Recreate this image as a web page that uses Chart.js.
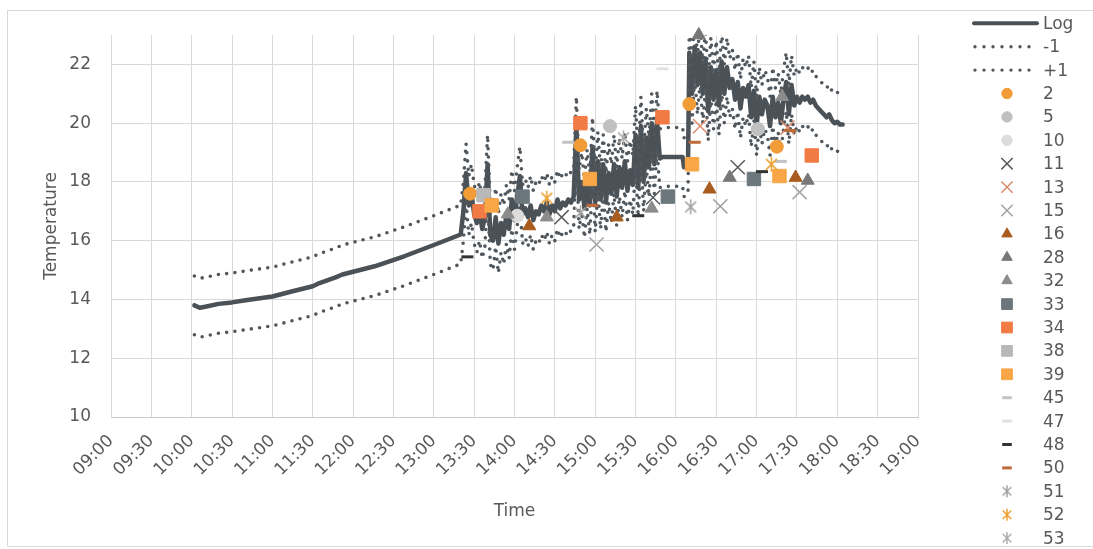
<!DOCTYPE html>
<html>
<head>
<meta charset="utf-8">
<script src="https://cdn.jsdelivr.net/npm/chart.js@4.4.1/dist/chart.umd.min.js"></script>
<style>
  html, body { margin: 0; padding: 0; background: #fff; }
  #wrap { width: 1093px; height: 549px; }
</style>
</head>
<body>
<div id="wrap"><canvas id="chart" width="1093" height="549"></canvas></div>
<script>
const tickLabels = ['09:00', '09:30', '10:00', '10:30', '11:00', '11:30', '12:00', '12:30', '13:00', '13:30',
  '14:00', '14:30', '15:00', '15:30', '16:00', '16:30', '17:00', '17:30', '18:00', '18:30', '19:00']

// logger readings (time of day)
const logTimes = (
  '10:02 10:06 10:10 10:20 10:30 10:40 10:52 11:00 11:15 11:30 11:35 11:47 11:52 12:16 12:38 13:01 13:20 ' +
  '13:22 13:24 13:26 13:28 13:30 13:32 13:34 13:36 13:38 13:40 ' +
  '13:42 13:44 13:46 13:48 13:50 13:52 13:54 13:56 13:58 14:00 ' +
  '14:02 14:04 14:06 14:08 14:10 14:12 14:14 14:16 14:18 14:20 ' +
  '14:22 14:24 14:26 14:28 14:30 14:32 14:34 14:36 14:38 14:40 ' +
  '14:42 14:44 14:46 14:48 14:50 14:52 14:54 14:56 14:58 15:00 ' +
  '15:02 15:04 15:06 15:08 15:10 15:12 15:14 15:16 15:18 15:20 ' +
  '15:22 15:24 15:26 15:28 15:30 15:32 15:34 15:36 15:38 15:40 ' +
  '15:42 15:44 15:46 15:48 15:50 16:05 16:06 16:09 16:10 16:12 ' +
  '16:14 16:16 16:18 16:20 16:22 16:24 16:26 16:28 16:30 16:32 ' +
  '16:34 16:36 16:38 16:40 16:42 16:44 16:46 16:48 16:50 16:52 ' +
  '16:54 16:56 16:58 17:00 17:02 17:04 17:06 17:08 17:10 17:12 ' +
  '17:14 17:16 17:18 17:20 17:22 17:24 17:26 17:28 17:30 17:32 ' +
  '17:34 17:36 17:38 17:40 17:42 17:44 17:46 17:48 17:50 17:52 ' +
  '17:54 17:56 17:58 18:00 18:02 18:04').split(' ')

const logValues = [
  13.8, 13.72, 13.75, 13.85, 13.9, 13.97, 14.05, 14.1, 14.28, 14.45, 14.56, 14.75, 14.85, 15.13, 15.47, 15.87, 16.21,
  17.0, 18.3, 17.2, 17.6, 16.9, 16.6, 17.0, 16.4, 16.8, 18.6,
  16.2, 16.0, 16.8, 15.9, 16.6, 16.2, 16.9, 16.4, 17.4, 16.7,
  17.5, 18.2, 16.9, 17.1, 16.8, 17.2, 16.7, 17.0, 16.9, 17.2,
  17.0, 17.3, 16.9, 17.2, 17.0, 17.4, 17.1, 17.3, 17.2, 17.4,
  17.3, 17.5, 19.9, 17.4, 18.0, 17.1, 18.1, 17.2, 19.2, 17.3,
  18.7, 17.4, 18.6, 17.3, 18.3, 17.6, 18.6, 17.5, 18.5, 17.8,
  18.7, 17.7, 18.4, 17.9, 19.6, 17.8, 19.9, 18.0, 19.5, 18.5,
  20.0, 18.6, 20.1, 18.8, 18.85, 18.85, 18.5, 18.6, 22.4, 21.0,
  22.6, 21.3, 22.4, 21.0, 22.2, 20.4, 21.9, 20.8, 21.8, 20.6,
  22.1, 21.0, 21.9, 21.2, 21.5, 20.8, 21.4, 20.5, 21.2, 20.9,
  21.3, 20.2, 21.1, 19.9, 20.9, 20.3, 20.8, 20.6, 19.9, 20.9,
  20.2, 20.7, 20.0, 20.8, 21.4, 20.3, 21.3, 20.6, 20.9, 20.7,
  20.9, 20.8, 20.9, 20.7, 20.8, 20.6, 20.5, 20.4, 20.3, 20.2,
  20.3, 20.1, 20.0, 20.05, 19.95, 19.95
]

const minusOneValues = [
  12.8, 12.72, 12.75, 12.85, 12.9, 12.97, 13.05, 13.1, 13.28, 13.45, 13.56, 13.75, 13.85, 14.13, 14.47, 14.87, 15.21,
  16.0, 17.3, 16.2, 16.6, 15.9, 15.6, 16.0, 15.4, 15.8, 17.6,
  15.2, 15.0, 15.8, 14.9, 15.6, 15.2, 15.9, 15.4, 16.4, 15.7,
  16.5, 17.2, 15.9, 16.1, 15.8, 16.2, 15.7, 16.0, 15.9, 16.2,
  16.0, 16.3, 15.9, 16.2, 16.0, 16.4, 16.1, 16.3, 16.2, 16.4,
  16.3, 16.5, 18.9, 16.4, 17.0, 16.1, 17.1, 16.2, 18.2, 16.3,
  17.7, 16.4, 17.6, 16.3, 17.3, 16.6, 17.6, 16.5, 17.5, 16.8,
  17.7, 16.7, 17.4, 16.9, 18.6, 16.8, 18.9, 17.0, 18.5, 17.5,
  19.0, 17.6, 19.1, 17.8, 17.85, 17.85, 17.5, 17.6, 21.4, 20.0,
  21.6, 20.3, 21.4, 20.0, 21.2, 19.4, 20.9, 19.8, 20.8, 19.6,
  21.1, 20.0, 20.9, 20.2, 20.5, 19.8, 20.4, 19.5, 20.2, 19.9,
  20.3, 19.2, 20.1, 18.9, 19.9, 19.3, 19.8, 19.6, 18.9, 19.9,
  19.2, 19.7, 19.0, 19.8, 20.4, 19.3, 20.3, 19.6, 19.9, 19.7,
  19.9, 19.8, 19.9, 19.7, 19.8, 19.6, 19.5, 19.4, 19.3, 19.2,
  19.3, 19.1, 19.0, 19.05, 18.95, 18.95
]

const plusOneValues = [
  14.8, 14.72, 14.75, 14.85, 14.9, 14.97, 15.05, 15.1, 15.28, 15.45, 15.56, 15.75, 15.85, 16.13, 16.47, 16.87, 17.21,
  18.0, 19.3, 18.2, 18.6, 17.9, 17.6, 18.0, 17.4, 17.8, 19.6,
  17.2, 17.0, 17.8, 16.9, 17.6, 17.2, 17.9, 17.4, 18.4, 17.7,
  18.5, 19.2, 17.9, 18.1, 17.8, 18.2, 17.7, 18.0, 17.9, 18.2,
  18.0, 18.3, 17.9, 18.2, 18.0, 18.4, 18.1, 18.3, 18.2, 18.4,
  18.3, 18.5, 20.9, 18.4, 19.0, 18.1, 19.1, 18.2, 20.2, 18.3,
  19.7, 18.4, 19.6, 18.3, 19.3, 18.6, 19.6, 18.5, 19.5, 18.8,
  19.7, 18.7, 19.4, 18.9, 20.6, 18.8, 20.9, 19.0, 20.5, 19.5,
  21.0, 19.6, 21.1, 19.8, 19.85, 19.85, 19.5, 19.6, 23.4, 22.0,
  23.6, 22.3, 23.4, 22.0, 23.2, 21.4, 22.9, 21.8, 22.8, 21.6,
  23.1, 22.0, 22.9, 22.2, 22.5, 21.8, 22.4, 21.5, 22.2, 21.9,
  22.3, 21.2, 22.1, 20.9, 21.9, 21.3, 21.8, 21.6, 20.9, 21.9,
  21.2, 21.7, 21.0, 21.8, 22.4, 21.3, 22.3, 21.6, 21.9, 21.7,
  21.9, 21.8, 21.9, 21.7, 21.8, 21.6, 21.5, 21.4, 21.3, 21.2,
  21.3, 21.1, 21.0, 21.05, 20.95, 20.95
]

// spot readings [time, temperature]
const s2 = [['13:27', 17.6], ['14:49', 19.25], ['16:10', 20.65], ['17:15', 19.2]]
const s5 = [['15:11', 19.9], ['17:01', 19.8]]
const s10 = [['14:02', 16.85]]
const s11 = [['14:35', 16.8], ['15:43', 17.47], ['16:46', 18.5]]
const s13 = [['16:18', 19.9], ['17:23', 19.85]]
const s15 = [['15:01', 15.87], ['16:33', 17.17], ['17:32', 17.65]]
const s16 = [['14:11', 16.5], ['15:16', 16.8], ['16:25', 17.75], ['17:29', 18.15]]
const s28 = [['16:17', 23.0], ['16:40', 18.15], ['17:38', 18.05]]
const s32 = [['13:55', 16.9], ['14:24', 16.8], ['15:42', 17.1], ['17:19', 20.9]]
const s33 = [['14:06', 17.5], ['15:54', 17.5], ['16:58', 18.1]]
const s34 = [['13:34', 17.0], ['14:49', 20.0], ['15:50', 20.2], ['17:41', 18.9]]
const s38 = [['13:37', 17.55]]
const s39 = [['13:43', 17.2], ['14:56', 18.1], ['16:12', 18.6], ['17:17', 18.2]]
const s45 = [['14:40', 19.35], ['17:18', 18.7]]
const s47 = [['15:50', 21.85]]
const s48 = [['13:25', 15.45], ['15:32', 16.85], ['17:04', 18.35]]
const s50 = [['14:58', 17.2], ['16:14', 19.35], ['17:25', 19.75]]
const s51 = [['14:49', 16.95], ['16:11', 17.15]]
const s52 = [['14:24', 17.45], ['17:11', 18.6]]
const s53 = [['15:21', 19.5]]

const markerSeries = [
  ['2', s2], ['5', s5], ['10', s10], ['11', s11], ['13', s13], ['15', s15], ['16', s16],
  ['28', s28], ['32', s32], ['33', s33], ['34', s34], ['38', s38], ['39', s39], ['45', s45],
  ['47', s47], ['48', s48], ['50', s50], ['51', s51], ['52', s52], ['53', s53]
]

const markerStyle = {
  '2': { shape: 'circle', color: '#f29c38', r: 6.5 },
  '5': { shape: 'circle', color: '#c0c0c0', r: 6.5 },
  '10': { shape: 'circle', color: '#dcdcdc', r: 6.5 },
  '11': { shape: 'crossRot', color: '#5a5a5a', r: 10 },
  '13': { shape: 'crossRot', color: '#d98c6c', r: 10 },
  '15': { shape: 'crossRot', color: '#a2a2a2', r: 10 },
  '16': { shape: 'triangle', color: '#a95c1d', r: 7.5 },
  '28': { shape: 'triangle', color: '#777777', r: 7.5 },
  '32': { shape: 'triangle', color: '#8c8c8c', r: 7.5 },
  '33': { shape: 'rect', color: '#6c777d', r: 9.5 },
  '34': { shape: 'rect', color: '#f27a44', r: 9.5 },
  '38': { shape: 'rect', color: '#b8b8b8', r: 9.5 },
  '39': { shape: 'rect', color: '#f8a646', r: 9.5 },
  '45': { shape: 'line', color: '#c2c2c2', r: 6 },
  '47': { shape: 'line', color: '#e2e2e2', r: 6 },
  '48': { shape: 'line', color: '#333333', r: 6 },
  '50': { shape: 'line', color: '#bf6a3a', r: 6 },
  '51': { shape: 'asterisk', color: '#a3a3a3', r: 7.5 },
  '52': { shape: 'asterisk', color: '#eba032', r: 7.5 },
  '53': { shape: 'asterisk', color: '#adadad', r: 7.5 },
}

const LOG_COLOR = '#4a5157'
const DOT_COLOR = '#50575d'
const TEXT_COLOR = '#595959'
const GRID_COLOR = '#d9d9d9'

function hours(t) {
  const [h, m] = t.split(':').map(Number)
  return h + m / 60
}

function makeAsterisk(color, r) {
  const size = Math.ceil(r * 2 + 2)
  const c = document.createElement('canvas')
  c.width = size
  c.height = size
  const g = c.getContext('2d')
  const m = size / 2
  const d = r * 0.72
  g.strokeStyle = color
  g.lineWidth = 1.5
  g.beginPath()
  g.moveTo(m, m - r)
  g.lineTo(m, m + r)
  g.moveTo(m - d, m - d)
  g.lineTo(m + d, m + d)
  g.moveTo(m - d, m + d)
  g.lineTo(m + d, m - d)
  g.stroke()
  return c
}

function markerDataset(name, pts, idx) {
  const st = markerStyle[name]
  const stroked = st.shape === 'crossRot' || st.shape === 'line'
  return {
    label: name,
    data: pts.map((p) => ({ x: hours(p[0]), y: p[1] })),
    showLine: false,
    pointStyle: st.shape === 'asterisk' ? makeAsterisk(st.color, st.r) : st.shape,
    pointRadius: st.r,
    pointBackgroundColor: st.color,
    pointBorderColor: st.color,
    pointBorderWidth: st.shape === 'line' ? 3 : (stroked ? 1.5 : 1),
    clip: false,
    order: 20 - idx,
  }
}

function lineDataset(label, values, dotted, order) {
  return {
    label: label,
    data: logTimes.map((t, i) => ({ x: hours(t), y: values[i] })),
    showLine: true,
    borderColor: dotted ? DOT_COLOR : LOG_COLOR,
    borderWidth: dotted ? 3.6 : 4.5,
    borderDash: dotted ? [0, 8.3] : [],
    borderCapStyle: 'round',
    borderJoinStyle: 'round',
    pointRadius: 0,
    tension: 0,
    clip: 0,
    order: order,
  }
}

const legendNames = ['Log', '-1', '+1'].concat(markerSeries.map((s) => s[0]))

const frameAndLegend = {
  id: 'frameAndLegend',
  beforeDraw(chart) {
    const ctx = chart.ctx
    ctx.save()
    ctx.fillStyle = '#ffffff'
    ctx.fillRect(0, 0, chart.width, chart.height)
    ctx.strokeStyle = GRID_COLOR
    ctx.lineWidth = 1
    ctx.strokeRect(7.5, 10.5, 1200, 536)
    ctx.restore()
  },
  afterDraw(chart) {
    const ctx = chart.ctx
    ctx.save()
    ctx.font = '17px "DejaVu Sans"'
    ctx.textBaseline = 'middle'
    ctx.textAlign = 'left'
    legendNames.forEach((name, i) => {
      const y = 23.3 + i * 23.4
      if (name === 'Log') {
        ctx.strokeStyle = LOG_COLOR
        ctx.lineWidth = 4
        ctx.lineCap = 'round'
        ctx.beginPath()
        ctx.moveTo(974, y)
        ctx.lineTo(1037, y)
        ctx.stroke()
      } else if (name === '-1' || name === '+1') {
        ctx.strokeStyle = DOT_COLOR
        ctx.lineWidth = 3.4
        ctx.lineCap = 'round'
        ctx.setLineDash([0, 9])
        ctx.beginPath()
        ctx.moveTo(975, y)
        ctx.lineTo(1032, y)
        ctx.stroke()
        ctx.setLineDash([])
      } else {
        const st = markerStyle[name]
        const r = st.r * 0.8
        if (st.shape === 'asterisk') {
          const img = makeAsterisk(st.color, r)
          ctx.drawImage(img, 1007 - img.width / 2, y - img.height / 2)
        } else {
          ctx.fillStyle = st.color
          ctx.strokeStyle = st.color
          const bw = st.shape === 'line' ? 3 : (st.shape === 'crossRot' ? 1.5 : 1)
          ctx.lineWidth = bw
          ctx.lineCap = 'butt'
          Chart.helpers.drawPoint(ctx, { pointStyle: st.shape, radius: r, rotation: 0, borderWidth: bw }, 1007, y)
        }
      }
      ctx.fillStyle = TEXT_COLOR
      ctx.fillText(name, 1043, y + 1)
    })
    ctx.restore()
  },
}

Chart.defaults.font.family = '"DejaVu Sans", Verdana, sans-serif'
Chart.defaults.font.size = 17
Chart.defaults.color = TEXT_COLOR

const datasets = markerSeries.map((s, i) => markerDataset(s[0], s[1], i))
datasets.push(lineDataset('+1', plusOneValues, true, 28))
datasets.push(lineDataset('-1', minusOneValues, true, 29))
datasets.push(lineDataset('Log', logValues, false, 30))

new Chart(document.getElementById('chart'), {
  type: 'scatter',
  data: { datasets: datasets },
  options: {
    responsive: false,
    animation: false,
    devicePixelRatio: 1,
    layout: { padding: { left: 37, right: 175, top: 35, bottom: 23 } },
    plugins: {
      legend: { display: false },
      tooltip: { enabled: false },
    },
    scales: {
      x: {
        type: 'linear',
        min: 9,
        max: 19,
        afterFit: (scale) => { scale.height = 109 },
        grid: { color: GRID_COLOR, drawTicks: false },
        border: { color: '#cccccc' },
        ticks: {
          stepSize: 0.5,
          autoSkip: false,
          minRotation: 45,
          maxRotation: 45,
          padding: 14,
          callback: (v) => tickLabels[Math.round((v - 9) * 2)] || '',
        },
        title: { display: true, text: 'Time', color: TEXT_COLOR },
      },
      y: {
        min: 10,
        max: 23,
        afterFit: (scale) => { scale.width = 74 },
        grid: { color: GRID_COLOR, drawTicks: false },
        border: { color: GRID_COLOR },
        ticks: { stepSize: 2, includeBounds: false, padding: 20 },
        title: { display: true, text: 'Temperature', color: TEXT_COLOR },
      },
    },
  },
  plugins: [frameAndLegend],
})
</script>
</body>
</html>
